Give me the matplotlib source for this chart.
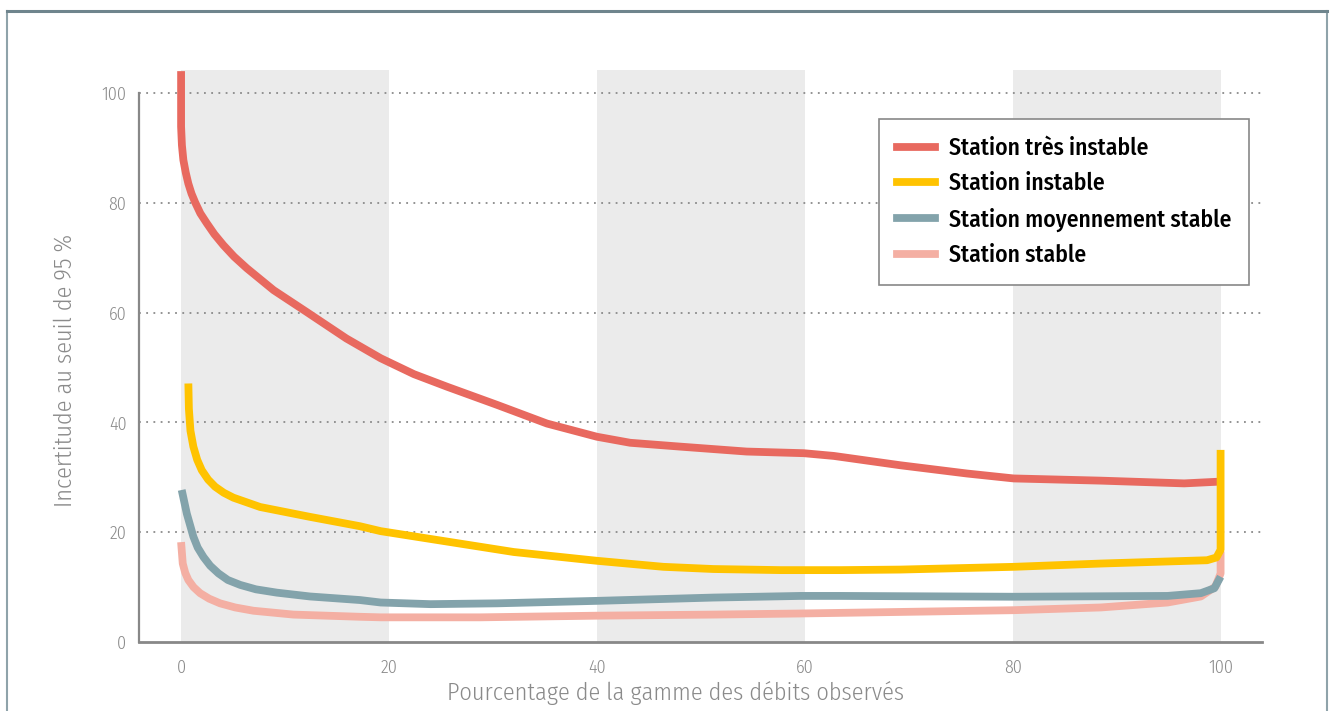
import numpy as np
import matplotlib
matplotlib.use("Agg")
import matplotlib.pyplot as plt
from matplotlib.lines import Line2D

plt.rcParams["font.family"] = ["Fira Sans Condensed", "DejaVu Sans"]

# data
x_tres = [0, 0, 0.08, 0.22, 0.45, 0.7, 1.0, 1.35, 1.85, 2.47, 3.2, 4.07, 5.1, 6.32,
          8.9, 12.1, 15.9, 19.2, 22.4, 25.6, 30.4, 35.2, 40.0, 43.2, 48.0, 54.4,
          59.9, 62.8, 69.2, 75.6, 80.1, 88.5, 96.5, 99.7]
y_tres = [104, 93.9, 90.5, 87.8, 85.5, 83.5, 81.7, 80.1, 78.1, 76.3, 74.3, 72.3,
          70.2, 68.1, 64.1, 60.1, 55.3, 51.7, 48.8, 46.5, 43.2, 39.8, 37.4, 36.3,
          35.6, 34.7, 34.4, 33.9, 32.2, 30.7, 29.8, 29.4, 28.9, 29.2]

x_inst = [0.7, 0.75, 0.9, 1.18, 1.55, 1.99, 2.6, 3.27, 4.1, 5.03, 7.6, 12.4, 17.2,
          19.2, 25.6, 32.0, 40.0, 46.4, 51.2, 57.7, 63.4, 69.2, 80.1, 88.5, 98.7,
          99.6, 100, 100]
y_inst = [47.1, 42.5, 38.5, 35.6, 33.2, 31.3, 29.6, 28.3, 27.2, 26.3, 24.6, 22.8,
          21.1, 20.2, 18.3, 16.4, 14.8, 13.7, 13.3, 13.1, 13.1, 13.2, 13.7, 14.3,
          14.9, 15.4, 16.8, 35.0]

x_moy = [0.06, 0.55, 1.18, 1.6, 2.15, 2.8, 3.6, 4.5, 5.7, 7.2, 9.2, 12.4, 17.2,
         19.2, 24.0, 30.4, 40.0, 51.2, 59.6, 63.4, 80.1, 94.9, 98.1, 99.4, 100]
y_moy = [27.7, 23.4, 19.2, 17.2, 15.5, 13.9, 12.5, 11.3, 10.4, 9.6, 9.0, 8.3, 7.65,
         7.2, 6.9, 7.05, 7.5, 8.1, 8.4, 8.4, 8.25, 8.4, 8.9, 9.8, 11.9]

x_stab = [0, 0.16, 0.4, 0.7, 1.2, 1.83, 2.7, 3.75, 5.2, 6.96, 10.8, 17.2, 19.2,
          28.8, 40.0, 51.2, 59.6, 80.1, 88.5, 94.9, 98.1, 99.5, 100, 100]
y_stab = [18.2, 14.3, 12.6, 11.3, 10.0, 8.9, 7.9, 7.05, 6.3, 5.7, 5.0, 4.6, 4.5,
          4.5, 4.8, 5.0, 5.2, 5.8, 6.3, 7.2, 8.3, 10.1, 12.5, 16.5]

labels = ["Station très instable", "Station instable",
          "Station moyennement stable", "Station stable"]
colors = ["#E8695F", "#FFC300", "#83A3AB", "#F4AFA3"]
bands = [(0, 20), (40, 60), (80, 100)]
yticks = [0, 20, 40, 60, 80, 100]
xticks = [0, 20, 40, 60, 80, 100]

fig = plt.figure(figsize=(13.3, 7.11), dpi=100)
ax = fig.add_axes([0.1045, 0.097, 0.8445, 0.8045])
ax.set_xlim(-4.05, 104.0)
ax.set_ylim(0, 104.2)

for a, b in bands:
    ax.axvspan(a, b, color="#EBEBEB", lw=0, zorder=0)

for yv in yticks[1:]:
    ax.axhline(yv, color="#8A8A8A", lw=1.3, ls=(0, (1, 3)), zorder=1)

# drawing order: stable, moyennement, très instable, instable on top
series = [(x_stab, y_stab, 3, 2), (x_moy, y_moy, 2, 3),
          (x_tres, y_tres, 0, 4), (x_inst, y_inst, 1, 5)]
for xs, ys, i, z in series:
    ax.plot(xs, ys, color=colors[i], lw=5.6, solid_joinstyle="round",
            solid_capstyle="butt", zorder=z)

for s in ["top", "right"]:
    ax.spines[s].set_visible(False)
ax.spines["left"].set_bounds(0, 100)
ax.spines["left"].set_color("#888888")
ax.spines["left"].set_linewidth(1.6)
ax.spines["bottom"].set_color("#888888")
ax.spines["bottom"].set_linewidth(2)

ax.set_xticks(xticks)
ax.set_yticks(yticks)
ax.tick_params(length=0, labelsize=13, labelcolor="#8A8A8A", pad=9)
ax.tick_params(axis="x", pad=12)
for t in ax.get_xticklabels() + ax.get_yticklabels():
    t.set_fontweight(300)

ax.set_xlabel("Pourcentage de la gamme des débits observés", fontsize=17.5,
              color="#8A8A8A", fontweight=300)
ax.set_ylabel("Incertitude au seuil de 95 %", fontsize=17.5, color="#8A8A8A",
              fontweight=300)
ax.xaxis.set_label_coords(0.4777, -0.069)
ax.yaxis.set_label_coords(-0.056, 0.4755)

handles = [Line2D([], [], color=c, lw=5.6) for c in colors]
leg = ax.legend(handles, labels, loc="upper left", bbox_to_anchor=(0.659, 0.9143),
                borderaxespad=0, frameon=True, fancybox=False, handlelength=1.6,
                handletextpad=0.62, labelspacing=0.52, borderpad=0.75,
                prop={"family": ["Fira Sans Condensed", "DejaVu Sans"],
                      "size": 17, "weight": 500})
leg.get_frame().set_edgecolor("#888888")
leg.get_frame().set_linewidth(1.2)
leg.get_frame().set_alpha(1)
leg.set_zorder(6)

# outer frame
fig.add_artist(Line2D([0.0053, 0.0053], [0, 0.985], transform=fig.transFigure,
                      color="#8FA3AA", lw=1.5))
fig.add_artist(Line2D([0.9977, 0.9977], [0, 0.985], transform=fig.transFigure,
                      color="#8FA3AA", lw=1.5))
fig.add_artist(Line2D([0.0053, 0.9977], [0.985, 0.985], transform=fig.transFigure,
                      color="#6F858D", lw=2.2))

fig.savefig("out.png", dpi=100)
